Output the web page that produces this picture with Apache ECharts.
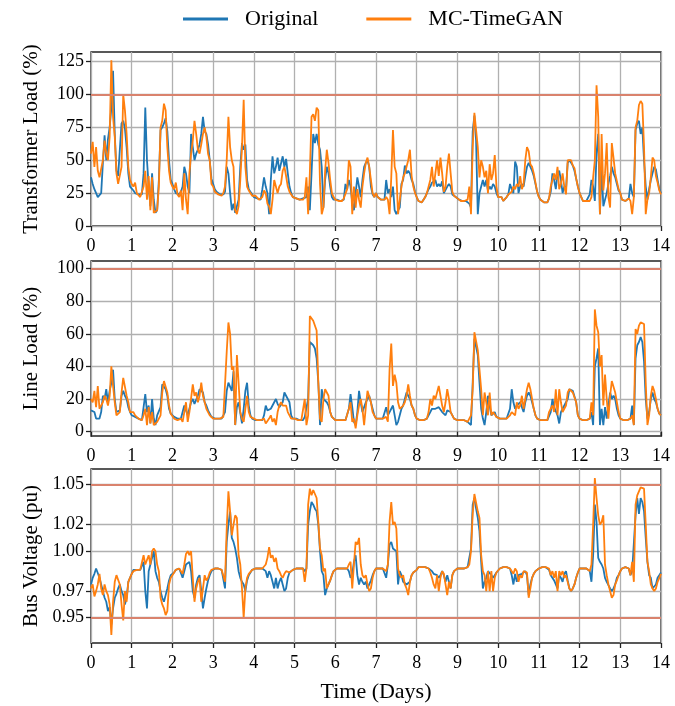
<!DOCTYPE html>
<html><head><meta charset="utf-8">
<script src="https://cdn.jsdelivr.net/npm/echarts@6/dist/echarts.min.js"></script>
<style>html,body{margin:0;padding:0;background:#fff}#c{width:675px;height:706px}</style>
</head><body><div id="c"></div>
<script>
// ---- tick labels / reference lines ----
const dayTicks = [0,1,2,3,4,5,6,7,8,9,10,11,12,13,14];
const tlTicks = [0,25,50,75,100,125];
const llTicks = [0,20,40,60,80,100];
const bvTicks = [0.95,0.97,1.00,1.02,1.05];
const tlLimits = [100];
const llLimits = [100];
const bvLimits = [0.95,1.05];
const seriesNames = ['Original','MC-TimeGAN'];

// ---- hourly values, one row per day (last row = end of day 14) ----
const tlOriginal = [
[37,32,28,25,22,22,25,48,69,50,66,75,90,118,70,42,38,37,78,80,74,60,40,30],
[30,27,25,24,24,24,24,40,90,50,30,15,40,20,10,12,35,73,75,78,82,72,50,35],
[32,28,25,25,24,26,30,45,40,30,25,70,60,50,55,58,62,70,83,72,70,62,50,36],
[32,28,26,25,24,25,24,26,45,40,25,12,17,10,9,20,45,63,58,62,35,28,27,24],
[22,22,21,21,20,28,37,30,25,9,35,53,40,45,52,42,42,53,45,51,40,30,25,22],
[22,21,21,20,20,21,20,22,30,12,40,70,63,70,62,58,45,14,35,45,40,30,22,20],
[21,20,19,19,20,20,32,28,35,30,18,12,25,37,30,22,35,45,48,50,45,30,24,22],
[25,22,21,20,20,20,35,25,28,22,30,12,9,12,14,32,35,46,40,42,40,35,32,26],
[22,19,18,18,20,22,25,28,30,33,32,35,30,32,30,34,25,26,30,32,30,24,23,22],
[21,20,19,19,19,19,18,17,14,72,84,65,9,25,30,35,30,35,27,30,28,32,30,25],
[22,22,22,19,19,22,24,32,28,25,49,45,25,30,32,30,38,45,48,45,42,38,32,26],
[22,20,19,18,18,18,21,26,40,35,28,40,42,35,25,30,28,48,50,48,46,42,36,30],
[25,22,19,19,19,19,24,35,30,19,55,70,9,45,15,14,25,32,38,45,40,37,32,27],
[25,20,19,19,19,21,32,25,22,73,78,80,70,75,50,30,20,28,35,40,45,43,35,28],
[25]];
const tlGan = [
[55,64,45,60,42,37,38,50,65,55,50,68,126,83,68,40,32,31,45,100,88,70,45,35],
[32,30,33,25,24,22,22,30,42,20,38,12,37,10,9,12,30,75,80,93,88,60,42,33],
[30,28,33,24,22,27,12,40,20,9,40,55,65,80,70,58,55,62,70,75,68,55,50,32],
[30,26,25,24,25,23,25,30,50,83,60,50,45,12,9,15,35,60,96,45,30,27,26,23],
[22,23,22,20,20,22,27,25,17,15,9,20,35,30,25,30,32,42,45,38,30,26,24,22],
[22,21,21,20,20,20,22,37,9,40,83,85,80,90,88,32,9,14,42,58,48,35,25,22],
[20,20,19,19,19,21,22,28,50,45,9,30,14,28,20,14,30,40,48,52,45,35,25,22],
[25,22,21,20,20,20,22,20,9,37,73,45,40,9,9,30,37,40,45,50,58,38,30,25],
[22,19,18,18,20,22,25,26,35,45,30,40,50,38,52,40,26,30,45,55,40,26,23,22],
[21,20,19,19,19,19,20,30,9,60,86,85,60,37,50,45,37,42,25,47,35,40,54,30],
[22,22,22,19,19,22,24,25,26,30,28,32,30,38,28,32,50,60,57,47,45,40,33,26],
[22,20,19,18,18,18,21,30,35,40,35,45,28,32,40,30,24,50,51,50,46,44,36,30],
[25,22,19,19,19,19,19,22,37,50,107,83,9,70,27,40,63,22,14,63,52,40,40,28],
[25,20,19,19,19,21,19,9,22,75,80,92,95,93,60,9,20,25,37,52,50,38,33,27],
[24]];
const llOriginal = [
[13,14,12,8,8,8,12,22,20,26,18,25,30,38,20,12,11,13,22,25,22,20,15,12],
[10,10,9,8,8,7,7,15,23,12,16,5,20,8,4,10,10,15,29,28,26,22,14,11],
[10,9,8,8,8,8,9,16,13,10,14,18,20,17,18,22,26,25,24,18,16,13,11,9],
[8,8,8,8,8,8,9,12,25,30,30,25,37,4,15,18,18,5,14,25,30,16,10,8],
[8,7,7,7,7,7,10,16,13,12,14,15,18,20,17,15,14,18,24,23,20,18,10,8],
[8,8,8,7,7,7,9,8,20,55,54,53,51,45,30,4,26,20,20,18,16,12,9,8],
[7,7,7,7,7,7,7,8,14,23,15,6,4,12,25,18,12,15,18,20,22,18,14,10],
[8,8,8,8,8,8,15,10,12,14,16,10,4,6,10,14,16,20,24,22,20,16,14,10],
[8,7,7,7,7,7,8,9,12,14,15,14,13,15,14,12,13,10,13,14,12,10,8,7],
[7,7,7,7,7,6,6,6,4,30,57,52,47,30,14,8,4,12,22,16,10,10,12,9],
[8,8,8,8,8,8,9,14,26,18,14,16,16,18,15,12,18,22,24,22,18,14,10,8],
[7,7,7,7,7,7,8,12,20,15,14,10,5,12,14,16,16,20,26,25,25,24,18,10],
[8,7,7,7,7,7,8,12,4,40,45,51,4,14,4,15,8,16,24,20,22,20,14,10],
[8,7,7,7,7,7,8,16,4,45,53,55,58,55,43,20,8,12,20,24,20,18,14,11],
[10]];
const llGan = [
[20,18,25,15,28,14,16,18,22,20,16,22,40,28,18,10,9,12,24,33,34,22,18,12],
[11,12,10,9,8,7,7,10,14,4,15,5,12,4,4,6,5,10,24,31,30,24,16,11],
[10,8,9,7,8,8,6,12,18,6,12,13,29,22,24,18,22,30,22,18,14,12,10,9],
[8,8,8,8,8,8,9,10,49,67,60,38,40,4,47,30,12,8,6,14,22,12,9,8],
[8,7,7,7,7,7,8,5,4,8,10,6,8,4,12,16,18,16,15,16,12,10,8,7],
[8,8,7,7,7,7,20,4,10,71,70,68,69,62,30,8,6,20,26,24,22,12,9,8],
[7,7,7,7,7,7,7,8,14,18,6,8,2,10,16,20,14,4,15,25,24,18,12,10],
[8,8,8,8,8,7,9,6,38,54,28,35,30,18,14,14,16,18,22,29,22,16,14,10],
[8,7,7,7,7,7,8,12,20,16,22,20,24,28,22,16,12,18,26,20,12,10,8,7],
[7,7,7,7,7,6,6,6,10,26,61,60,50,38,26,10,24,18,10,24,10,12,12,9],
[8,8,8,8,8,8,8,10,12,12,10,18,14,16,22,14,20,26,30,26,20,14,10,8],
[7,7,7,7,7,7,12,14,16,12,26,10,26,18,12,14,16,24,26,25,24,23,18,10],
[8,7,7,7,7,7,8,18,10,75,65,61,40,47,16,35,20,8,22,31,30,24,18,12],
[8,7,7,7,7,7,8,10,4,63,60,65,67,68,66,30,4,10,22,28,25,20,14,11],
[10]];
const bvOriginal = [
[0.975,0.980,0.983,0.987,0.986,0.980,0.975,0.970,0.965,0.962,0.955,0.958,0.945,0.957,0.965,0.968,0.972,0.975,0.970,0.967,0.960,0.965,0.977,0.980],
[0.983,0.986,0.986,0.986,0.986,0.986,0.985,0.992,0.970,0.957,0.985,0.990,0.995,1.000,0.985,0.980,0.977,0.970,0.965,0.962,0.967,0.972,0.978,0.982],
[0.982,0.984,0.986,0.987,0.987,0.986,0.980,0.985,0.990,0.990,0.992,0.985,0.970,0.965,0.975,0.980,0.982,0.970,0.957,0.965,0.972,0.978,0.982,0.985],
[0.986,0.987,0.987,0.987,0.987,0.986,0.985,0.972,1.007,1.020,1.030,1.010,1.007,1.002,0.995,0.985,0.980,0.977,0.975,0.970,0.978,0.982,0.984,0.986],
[0.986,0.987,0.987,0.987,0.987,0.987,0.988,0.985,0.980,0.985,0.982,0.977,0.972,0.980,0.972,0.977,0.980,0.975,0.970,0.972,0.980,0.984,0.985,0.986],
[0.986,0.987,0.987,0.987,0.987,0.987,0.985,0.987,1.020,1.030,1.037,1.035,1.032,1.030,1.020,1.000,0.985,0.982,0.967,0.972,0.975,0.978,0.982,0.985],
[0.986,0.987,0.987,0.987,0.987,0.987,0.987,0.987,0.985,0.980,0.983,0.992,0.997,0.982,0.975,0.980,0.977,0.975,0.977,0.972,0.975,0.978,0.982,0.985],
[0.987,0.987,0.987,0.987,0.987,0.987,0.980,0.990,1.005,1.007,1.002,1.003,1.000,0.975,0.985,0.982,0.977,0.978,0.975,0.975,0.977,0.982,0.984,0.985],
[0.986,0.988,0.988,0.988,0.988,0.988,0.987,0.987,0.986,0.985,0.983,0.982,0.982,0.980,0.982,0.985,0.982,0.977,0.982,0.982,0.972,0.982,0.985,0.986],
[0.987,0.987,0.987,0.987,0.987,0.987,0.988,0.989,1.002,1.035,1.040,1.032,1.025,1.015,0.992,0.972,0.977,0.980,0.985,0.984,0.982,0.980,0.982,0.984],
[0.985,0.987,0.988,0.988,0.988,0.988,0.988,0.987,0.982,0.975,0.983,0.977,0.982,0.982,0.983,0.984,0.985,0.982,0.967,0.975,0.980,0.983,0.985,0.986],
[0.987,0.988,0.988,0.988,0.988,0.988,0.986,0.982,0.982,0.978,0.977,0.972,0.982,0.980,0.977,0.983,0.985,0.978,0.972,0.970,0.972,0.975,0.980,0.984],
[0.987,0.987,0.987,0.987,0.987,0.987,0.985,0.977,0.997,1.035,1.022,0.995,0.992,0.990,0.987,0.980,0.977,0.977,0.972,0.970,0.972,0.975,0.980,0.982],
[0.985,0.987,0.988,0.988,0.988,0.987,0.982,0.985,0.985,1.027,1.040,1.028,1.040,1.037,1.030,1.010,0.992,0.982,0.980,0.972,0.972,0.975,0.980,0.982],
[0.984]];
const bvGan = [
[0.972,0.975,0.966,0.970,0.975,0.983,0.972,0.967,0.975,0.970,0.967,0.960,0.937,0.962,0.977,0.982,0.983,0.975,0.960,0.948,0.970,0.962,0.977,0.980],
[0.983,0.985,0.986,0.986,0.986,0.986,0.985,0.997,0.990,0.990,0.997,0.990,1.000,1.002,1.000,0.990,0.985,0.965,0.960,0.957,0.952,0.955,0.975,0.980],
[0.982,0.984,0.986,0.987,0.987,0.986,0.983,0.990,0.998,1.000,0.997,1.000,0.980,0.962,0.972,0.977,0.980,0.962,0.962,0.982,0.978,0.980,0.984,0.986],
[0.986,0.987,0.987,0.987,0.987,0.986,0.985,0.977,1.017,1.045,1.030,1.012,1.020,1.027,1.025,0.997,0.990,0.972,0.950,0.972,0.980,0.983,0.984,0.986],
[0.986,0.987,0.987,0.987,0.987,0.987,0.988,0.990,0.995,1.003,0.995,0.997,0.992,0.995,0.987,0.985,0.982,0.980,0.983,0.985,0.984,0.984,0.985,0.986],
[0.986,0.987,0.987,0.987,0.987,0.987,0.977,0.987,1.035,1.047,1.042,1.046,1.047,1.040,1.022,1.002,0.997,0.985,0.987,0.972,0.975,0.978,0.982,0.985],
[0.986,0.987,0.987,0.987,0.987,0.987,0.987,0.987,0.990,0.992,0.972,0.990,1.007,1.005,1.010,0.990,0.982,0.980,0.982,0.975,0.970,0.972,0.980,0.985],
[0.987,0.987,0.987,0.987,0.987,0.987,0.985,0.990,1.022,1.037,1.020,1.022,1.017,0.987,0.982,0.980,0.982,0.975,0.972,0.967,0.977,0.982,0.984,0.985],
[0.986,0.988,0.988,0.988,0.988,0.988,0.987,0.987,0.984,0.980,0.975,0.972,0.982,0.970,0.980,0.985,0.983,0.975,0.967,0.977,0.972,0.982,0.985,0.986],
[0.987,0.987,0.987,0.987,0.987,0.987,0.988,0.990,1.000,1.028,1.043,1.042,1.030,1.025,0.997,0.985,0.982,0.970,0.985,0.970,0.985,0.970,0.980,0.984],
[0.985,0.987,0.988,0.988,0.988,0.988,0.988,0.987,0.985,0.983,0.987,0.985,0.977,0.982,0.980,0.985,0.985,0.984,0.965,0.972,0.980,0.983,0.985,0.986],
[0.987,0.988,0.988,0.988,0.988,0.988,0.987,0.982,0.985,0.980,0.985,0.970,0.985,0.982,0.985,0.980,0.982,0.983,0.972,0.970,0.972,0.975,0.980,0.984],
[0.987,0.987,0.987,0.987,0.987,0.987,0.985,0.990,1.020,1.055,1.040,1.027,1.020,1.022,1.027,0.990,0.982,0.975,0.970,0.965,0.967,0.975,0.978,0.982],
[0.985,0.987,0.988,0.988,0.988,0.987,0.982,0.992,0.977,1.035,1.042,1.042,1.048,1.048,1.047,1.020,0.992,0.985,0.975,0.972,0.970,0.972,0.977,0.980],
[0.983]];

// ---- build chart ----
function toPoints(rows){
  const pts = [];
  rows.forEach((row, d) => row.forEach((v, h) => pts.push([d + h / 24, v])));
  return pts;
}
const FONT = 'Liberation Serif';
const BLUE = '#1f77b4', ORANGE = '#ff7f0e', LIMIT = '#d9826d', GRIDC = '#b0b0b0', FRAME = '#222';

const panels = [
  {orig: tlOriginal, gan: tlGan, ticks: tlTicks, limits: tlLimits, min: 0, max: 132.3, title: 'Transformer Load (%)', fmt: v => String(Math.round(v))},
  {orig: llOriginal, gan: llGan, ticks: llTicks, limits: llLimits, min: -2.7, max: 104.7, title: 'Line Load (%)', fmt: v => String(Math.round(v))},
  {orig: bvOriginal, gan: bvGan, ticks: bvTicks, limits: bvLimits, min: 0.931, max: 1.0618, title: 'Bus Voltage (pu)', fmt: v => v.toFixed(2)}
];
const gridPos = [{top: 52, height: 174}, {top: 261, height: 175}, {top: 469, height: 174}];

const grid = [], xAxis = [], yAxis = [], series = [];
panels.forEach((p, i) => {
  grid.push({left: 91, right: 14, top: gridPos[i].top, height: gridPos[i].height, show: true, borderColor: FRAME, borderWidth: 1.3, backgroundColor: 'transparent'});
  xAxis.push({
    type: 'value', gridIndex: i, min: dayTicks[0], max: dayTicks[dayTicks.length - 1], interval: 1,
    axisLine: {show: false},
    axisTick: {show: true, inside: false, length: 5, lineStyle: {color: FRAME, width: 1.3}},
    axisLabel: {show: true, fontFamily: FONT, fontSize: 18, color: '#000', margin: 11, formatter: v => String(v)},
    splitLine: {show: true, lineStyle: {color: GRIDC, width: 1.3}},
    name: i === 2 ? 'Time (Days)' : '', nameLocation: 'middle', nameGap: 38,
    nameTextStyle: {fontFamily: FONT, fontSize: 22, color: '#000'}
  });
  yAxis.push({
    type: 'value', gridIndex: i, min: p.min, max: p.max,
    axisLine: {show: false},
    axisTick: {show: true, inside: false, length: 5, customValues: p.ticks, lineStyle: {color: FRAME, width: 1.3}},
    axisLabel: {show: true, customValues: p.ticks, fontFamily: FONT, fontSize: 18, color: '#000', margin: 7, formatter: p.fmt},
    splitLine: {show: true, lineStyle: {color: GRIDC, width: 1.3}},
    name: p.title, nameLocation: 'middle', nameRotate: 90, nameGap: 49,
    nameTextStyle: {fontFamily: FONT, fontSize: 21, color: '#000'}
  });
  series.push({
    type: 'line', xAxisIndex: i, yAxisIndex: i, data: [], silent: true, z: 1,
    markLine: {silent: true, symbol: ['none', 'none'], label: {show: false}, animation: false,
      lineStyle: {type: 'solid', color: LIMIT, width: 2}, data: p.limits.map(v => ({yAxis: v}))}
  });
  series.push({name: seriesNames[0], type: 'line', xAxisIndex: i, yAxisIndex: i, data: toPoints(p.orig),
    showSymbol: false, symbol: 'none', lineStyle: {color: BLUE, width: 1.8}, itemStyle: {color: BLUE}, z: 2});
  series.push({name: seriesNames[1], type: 'line', xAxisIndex: i, yAxisIndex: i, data: toPoints(p.gan),
    showSymbol: false, symbol: 'none', lineStyle: {color: ORANGE, width: 1.8}, itemStyle: {color: ORANGE}, z: 3});
});

const chart = echarts.init(document.getElementById('c'), null, {renderer: 'canvas'});
chart.setOption({
  animation: false,
  backgroundColor: '#fff',
  legend: {
    data: seriesNames, left: 183, top: 8, padding: 0, icon: 'rect', itemWidth: 45, itemHeight: 3, itemGap: 48,
    textStyle: {fontFamily: FONT, fontSize: 22, color: '#000', padding: [0, 0, 0, 12]}
  },
  grid, xAxis, yAxis, series
});
</script></body></html>
